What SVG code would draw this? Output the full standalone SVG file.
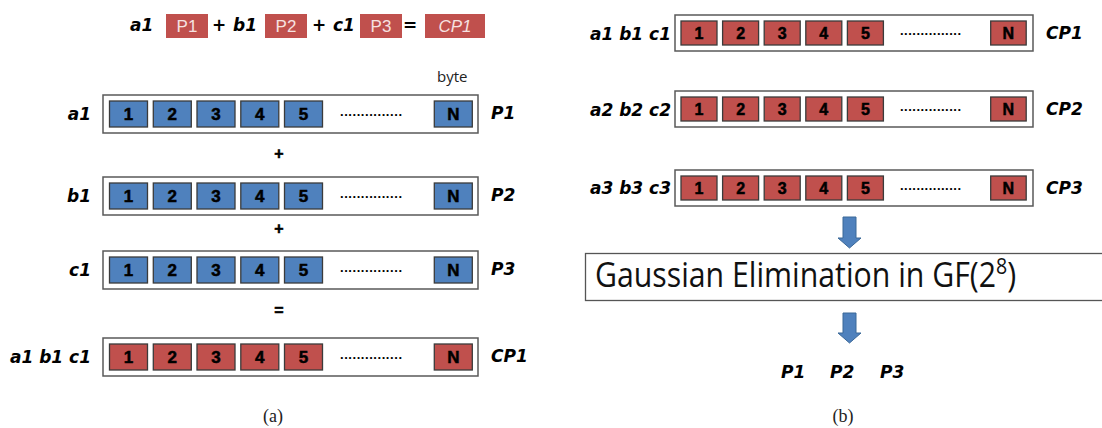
<svg xmlns="http://www.w3.org/2000/svg" width="1102" height="428" viewBox="0 0 1102 428">
<style>
.bg{fill:#ffffff}
.box{fill:#ffffff;stroke:#595959;stroke-width:1.5}
.cb{fill:#4f81bd;stroke:#3b3b3b;stroke-width:1.3}
.cr{fill:#c0504d;stroke:#3b3b3b;stroke-width:1.3}
.num{font-family:"Liberation Sans",Arial,sans-serif;font-weight:bold;font-size:17px;fill:#000;stroke:#000;stroke-width:0.5;text-anchor:middle}
.numr{font-family:"Liberation Sans",Arial,sans-serif;font-weight:bold;font-size:16px;fill:#000;stroke:#000;stroke-width:0.5;text-anchor:middle}
.dots{font-family:"Liberation Sans",Arial,sans-serif;font-weight:bold;font-size:13px;fill:#000}
.lab{font-family:"DejaVu Sans","Liberation Sans",sans-serif;font-weight:bold;font-style:italic;font-size:17px;fill:#000}
.end{text-anchor:end}
.op{font-family:"Liberation Sans",Arial,sans-serif;font-weight:bold;font-size:16px;fill:#000;stroke:#000;stroke-width:0.5;text-anchor:middle}
.pl{font-family:"Liberation Sans",Arial,sans-serif;font-size:17px;fill:#f6e2e1;text-anchor:middle}
.cap{font-family:"Liberation Serif","Times New Roman",serif;font-size:18px;fill:#222;text-anchor:middle}
.arr{fill:#4f81bd;stroke:#3a6898;stroke-width:1}
</style>
<rect class="bg" x="0" y="0" width="1102" height="428"/>

<g id="equation">
  <text class="lab" x="130" y="31">a1</text>
  <rect x="166" y="14" width="42" height="24" fill="#c0504d"/>
  <text class="pl" x="187" y="32">P1</text>
  <text class="lab" x="212" y="31">+</text>
  <text class="lab" x="233" y="31">b1</text>
  <rect x="265" y="14" width="42" height="24" fill="#c0504d"/>
  <text class="pl" x="286" y="32">P2</text>
  <text class="lab" x="312" y="31">+</text>
  <text class="lab" x="333" y="31">c1</text>
  <rect x="360" y="14" width="42" height="24" fill="#c0504d"/>
  <text class="pl" x="381" y="32">P3</text>
  <text class="lab" x="403" y="31">=</text>
  <rect x="425" y="14" width="60" height="24" fill="#c0504d"/>
  <text class="pl" x="455" y="32" font-style="italic">CP1</text>
</g>

<text id="byte" x="437" y="82" font-family="'Open Sans','Noto Sans',sans-serif" font-size="15" fill="#222">byte</text>

<g id="rowP1">
  <text class="lab end" x="91" y="120">a1</text>
  <rect class="box" x="103" y="95" width="375" height="38"/>
  <rect class="cb" x="109.5" y="101" width="38" height="26"/><text class="num" x="128.5" y="120">1</text>
  <rect class="cb" x="153.3" y="101" width="38" height="26"/><text class="num" x="172.3" y="120">2</text>
  <rect class="cb" x="197" y="101" width="38" height="26"/><text class="num" x="216" y="120">3</text>
  <rect class="cb" x="240.8" y="101" width="38" height="26"/><text class="num" x="259.8" y="120">4</text>
  <rect class="cb" x="284.5" y="101" width="38" height="26"/><text class="num" x="303.5" y="120">5</text>
  <text class="dots" x="340" y="116" textLength="62">...............</text>
  <rect class="cb" x="434.3" y="101" width="38" height="26"/><text class="num" x="453.3" y="120">N</text>
  <text class="lab" x="491" y="119">P1</text>
</g>
<text class="op" x="279" y="159">+</text>

<g id="rowP2">
  <text class="lab end" x="91" y="202">b1</text>
  <rect class="box" x="103" y="177" width="375" height="38"/>
  <rect class="cb" x="109.5" y="183" width="38" height="26"/><text class="num" x="128.5" y="202">1</text>
  <rect class="cb" x="153.3" y="183" width="38" height="26"/><text class="num" x="172.3" y="202">2</text>
  <rect class="cb" x="197" y="183" width="38" height="26"/><text class="num" x="216" y="202">3</text>
  <rect class="cb" x="240.8" y="183" width="38" height="26"/><text class="num" x="259.8" y="202">4</text>
  <rect class="cb" x="284.5" y="183" width="38" height="26"/><text class="num" x="303.5" y="202">5</text>
  <text class="dots" x="340" y="198" textLength="62">...............</text>
  <rect class="cb" x="434.3" y="183" width="38" height="26"/><text class="num" x="453.3" y="202">N</text>
  <text class="lab" x="491" y="201">P2</text>
</g>
<text class="op" x="279" y="234">+</text>

<g id="rowP3">
  <text class="lab end" x="91" y="276">c1</text>
  <rect class="box" x="103" y="251" width="375" height="38"/>
  <rect class="cb" x="109.5" y="257" width="38" height="26"/><text class="num" x="128.5" y="276">1</text>
  <rect class="cb" x="153.3" y="257" width="38" height="26"/><text class="num" x="172.3" y="276">2</text>
  <rect class="cb" x="197" y="257" width="38" height="26"/><text class="num" x="216" y="276">3</text>
  <rect class="cb" x="240.8" y="257" width="38" height="26"/><text class="num" x="259.8" y="276">4</text>
  <rect class="cb" x="284.5" y="257" width="38" height="26"/><text class="num" x="303.5" y="276">5</text>
  <text class="dots" x="340" y="272" textLength="62">...............</text>
  <rect class="cb" x="434.3" y="257" width="38" height="26"/><text class="num" x="453.3" y="276">N</text>
  <text class="lab" x="491" y="275">P3</text>
</g>
<text class="op" x="279" y="316">=</text>

<g id="rowCP1a">
  <text class="lab end" x="91" y="363">a1 b1 c1</text>
  <rect class="box" x="103" y="338" width="375" height="38"/>
  <rect class="cr" x="109.5" y="344" width="38" height="26"/><text class="num" x="128.5" y="363">1</text>
  <rect class="cr" x="153.3" y="344" width="38" height="26"/><text class="num" x="172.3" y="363">2</text>
  <rect class="cr" x="197" y="344" width="38" height="26"/><text class="num" x="216" y="363">3</text>
  <rect class="cr" x="240.8" y="344" width="38" height="26"/><text class="num" x="259.8" y="363">4</text>
  <rect class="cr" x="284.5" y="344" width="38" height="26"/><text class="num" x="303.5" y="363">5</text>
  <text class="dots" x="340" y="359" textLength="62">...............</text>
  <rect class="cr" x="434.3" y="344" width="38" height="26"/><text class="num" x="453.3" y="363">N</text>
  <text class="lab" x="491" y="362">CP1</text>
</g>

<text class="cap" x="273" y="422">(a)</text>

<g id="rowCP1">
  <text class="lab end" x="671" y="40">a1 b1 c1</text>
  <rect class="box" x="675" y="15" width="358" height="36"/>
  <rect class="cr" x="681" y="21" width="36" height="24"/><text class="numr" x="699" y="39">1</text>
  <rect class="cr" x="722.6" y="21" width="36" height="24"/><text class="numr" x="740.6" y="39">2</text>
  <rect class="cr" x="764.2" y="21" width="36" height="24"/><text class="numr" x="782.2" y="39">3</text>
  <rect class="cr" x="805.8" y="21" width="36" height="24"/><text class="numr" x="823.8" y="39">4</text>
  <rect class="cr" x="847.4" y="21" width="36" height="24"/><text class="numr" x="865.4" y="39">5</text>
  <text class="dots" x="900" y="35" textLength="61">...............</text>
  <rect class="cr" x="990.7" y="21" width="35.5" height="24"/><text class="numr" x="1008.4" y="39">N</text>
  <text class="lab" x="1046" y="39">CP1</text>
</g>

<g id="rowCP2">
  <text class="lab end" x="671" y="116">a2 b2 c2</text>
  <rect class="box" x="675" y="91" width="358" height="36"/>
  <rect class="cr" x="681" y="97" width="36" height="24"/><text class="numr" x="699" y="115">1</text>
  <rect class="cr" x="722.6" y="97" width="36" height="24"/><text class="numr" x="740.6" y="115">2</text>
  <rect class="cr" x="764.2" y="97" width="36" height="24"/><text class="numr" x="782.2" y="115">3</text>
  <rect class="cr" x="805.8" y="97" width="36" height="24"/><text class="numr" x="823.8" y="115">4</text>
  <rect class="cr" x="847.4" y="97" width="36" height="24"/><text class="numr" x="865.4" y="115">5</text>
  <text class="dots" x="900" y="111" textLength="61">...............</text>
  <rect class="cr" x="990.7" y="97" width="35.5" height="24"/><text class="numr" x="1008.4" y="115">N</text>
  <text class="lab" x="1046" y="115">CP2</text>
</g>

<g id="rowCP3">
  <text class="lab end" x="671" y="194">a3 b3 c3</text>
  <rect class="box" x="675" y="170" width="358" height="36"/>
  <rect class="cr" x="681" y="176" width="36" height="24"/><text class="numr" x="699" y="194">1</text>
  <rect class="cr" x="722.6" y="176" width="36" height="24"/><text class="numr" x="740.6" y="194">2</text>
  <rect class="cr" x="764.2" y="176" width="36" height="24"/><text class="numr" x="782.2" y="194">3</text>
  <rect class="cr" x="805.8" y="176" width="36" height="24"/><text class="numr" x="823.8" y="194">4</text>
  <rect class="cr" x="847.4" y="176" width="36" height="24"/><text class="numr" x="865.4" y="194">5</text>
  <text class="dots" x="900" y="190" textLength="61">...............</text>
  <rect class="cr" x="990.7" y="176" width="35.5" height="24"/><text class="numr" x="1008.4" y="194">N</text>
  <text class="lab" x="1046" y="194">CP3</text>
</g>

<g id="gauss">
  <rect x="585.5" y="253.5" width="530" height="47" fill="#ffffff" stroke="#555" stroke-width="1.3"/>
  <text transform="translate(595,287) scale(0.89,1)" x="0" y="0" font-family="'Open Sans','Noto Sans',sans-serif" font-size="34" fill="#111">Gaussian Elimination in GF(2<tspan dy="-13" font-size="22">8</tspan><tspan dy="13">)</tspan></text>
</g>

<g id="result">
  <text class="lab" x="781" y="378">P1</text>
  <text class="lab" x="830" y="378">P2</text>
  <text class="lab" x="880" y="378">P3</text>
</g>

<text class="cap" x="843" y="422">(b)</text>

<g id="connectors">
  <path class="arr" d="M843,217 H856 V238 H861 L849.5,248 L838,238 H843 Z"/>
  <path class="arr" d="M843,313 H856 V333 H861 L849.5,343 L838,333 H843 Z"/>
</g>
</svg>
